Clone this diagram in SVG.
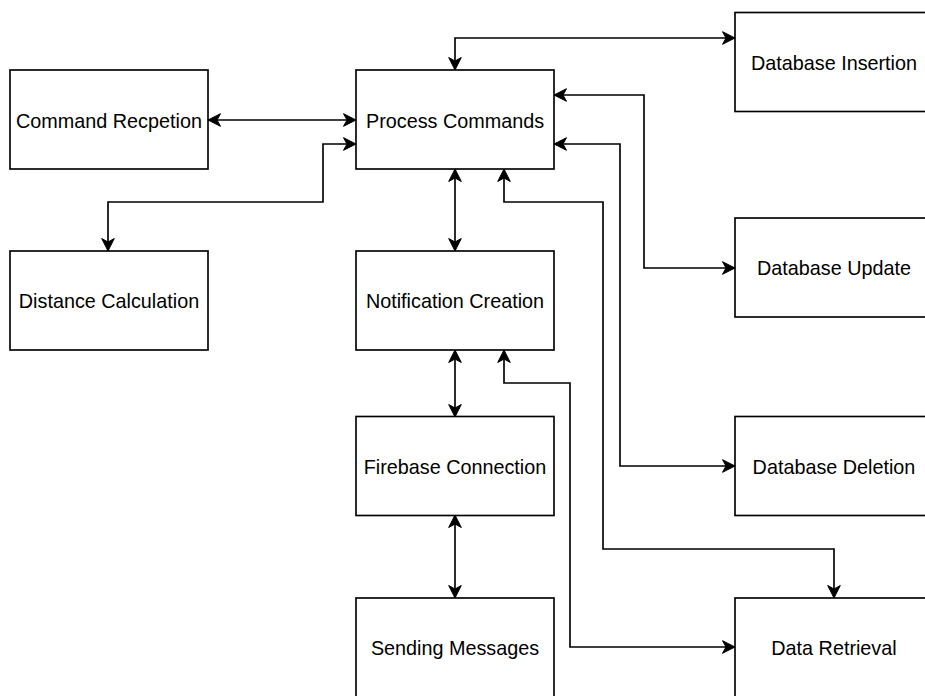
<svg xmlns="http://www.w3.org/2000/svg" width="925" height="696" viewBox="0 0 925 696">
  <style>
    .box rect { fill: #ffffff; stroke: #000000; stroke-width: 1.65; }
    .box text { font-family: "Liberation Sans", Arial, sans-serif; font-size: 19.8px; fill: #000000; text-anchor: middle; }
    .edge { fill: none; stroke: #000000; stroke-width: 1.65; marker-start: url(#arrow); marker-end: url(#arrow); }
  </style>
  <defs>
    <marker id="arrow" markerUnits="userSpaceOnUse" viewBox="-13 -7 14 14" refX="0" refY="0" markerWidth="14" markerHeight="14" orient="auto-start-reverse">
      <path d="M0,0 L-12.5,-6.3 L-9,0 L-12.5,6.3 Z" fill="#000000" stroke="#000000" stroke-width="1"/>
    </marker>
  </defs>

  <rect width="925" height="696" fill="#ffffff"/>

  <!-- connectors -->
  <g id="connectors">
    <path class="edge" d="M208,120 L356,120"/>
    <path class="edge" d="M356,144 L323,144 L323,202 L108,202 L108,251"/>
    <path class="edge" d="M455,70 L455,38 L735,38"/>
    <path class="edge" d="M554,95 L644,95 L644,268 L735,268"/>
    <path class="edge" d="M554,144 L620,144 L620,466 L735,466"/>
    <path class="edge" d="M504,169 L504,202 L603,202 L603,549 L834,549 L834,598"/>
    <path class="edge" d="M455,169 L455,251"/>
    <path class="edge" d="M504,350 L504,383 L570,383 L570,647 L735,647"/>
    <path class="edge" d="M455,350 L455,417"/>
    <path class="edge" d="M455,515 L455,598"/>
  </g>

  <!-- nodes -->
  <g id="command-reception" class="box">
    <rect x="10" y="70" width="198" height="99"/>
    <text x="109" y="127.5">Command Recpetion</text>
  </g>
  <g id="process-commands" class="box">
    <rect x="356" y="70" width="198" height="99"/>
    <text x="455" y="127.5">Process Commands</text>
  </g>
  <g id="database-insertion" class="box">
    <rect x="735" y="12.5" width="198" height="99"/>
    <text x="834" y="69.5">Database Insertion</text>
  </g>
  <g id="distance-calculation" class="box">
    <rect x="10" y="251" width="198" height="99"/>
    <text x="109" y="308">Distance Calculation</text>
  </g>
  <g id="notification-creation" class="box">
    <rect x="356" y="251" width="198" height="99"/>
    <text x="455" y="308">Notification Creation</text>
  </g>
  <g id="database-update" class="box">
    <rect x="735" y="218" width="198" height="99"/>
    <text x="834" y="275">Database Update</text>
  </g>
  <g id="firebase-connection" class="box">
    <rect x="356" y="416.5" width="198" height="99"/>
    <text x="455" y="473.5">Firebase Connection</text>
  </g>
  <g id="database-deletion" class="box">
    <rect x="735" y="416.5" width="198" height="99"/>
    <text x="834" y="473.5">Database Deletion</text>
  </g>
  <g id="sending-messages" class="box">
    <rect x="356" y="598" width="198" height="99"/>
    <text x="455" y="655">Sending Messages</text>
  </g>
  <g id="data-retrieval" class="box">
    <rect x="735" y="598" width="198" height="99"/>
    <text x="834" y="655">Data Retrieval</text>
  </g>
</svg>
